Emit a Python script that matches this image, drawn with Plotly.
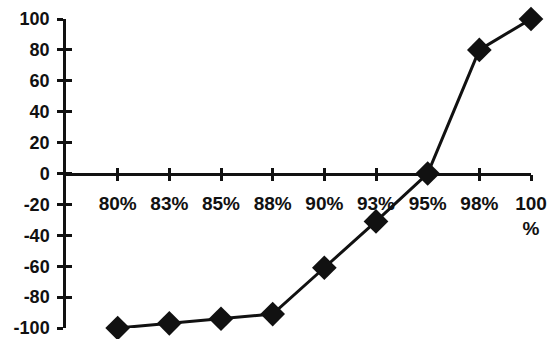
import plotly.graph_objects as go

# Threshold levels and the corresponding index values
categories = ["80%", "83%", "85%", "88%", "90%", "93%", "95%", "98%", "100%"]
values = [-100, -97, -94, -91, -61, -31, 0, 80, 100]
y_ticks = [100, 80, 60, 40, 20, 0, -20, -40, -60, -80, -100]

x_idx = list(range(len(categories)))
# the last label breaks onto a second line
tick_text = categories[:-1] + [categories[-1].replace("%", "<br>%")]
# plain hyphen for negative numbers
y_text = [str(v) for v in y_ticks]

FAMILY = "Liberation Sans, Arial, sans-serif"
INK = "#111111"
XFONT = dict(family=FAMILY, size=19, color=INK, weight="bold")
YFONT = dict(family=FAMILY, size=18, color=INK, weight="bold")

fig = go.Figure()
fig.add_trace(go.Scatter(
    x=x_idx, y=values, mode="lines+markers",
    line=dict(color=INK, width=3),
    marker=dict(symbol="diamond", size=19, color=INK),
    cliponaxis=False, showlegend=False, hoverinfo="x+y",
))
# companion trace so the cross-tick axes are drawn
fig.add_trace(go.Scatter(
    x=x_idx, y=values, xaxis="x2", yaxis="y2", mode="markers",
    marker=dict(opacity=0), showlegend=False, hoverinfo="skip",
))

x_range = [-1, len(categories) - 1]
y_range = [-100, 100]

fig.update_layout(
    width=548, height=339,
    margin=dict(l=66, r=17, t=19, b=11, autoexpand=False),
    paper_bgcolor="white", plot_bgcolor="white",
    font=dict(family=FAMILY, size=18, color=INK),
    xaxis=dict(
        range=x_range, anchor="free", position=0.5, automargin=False,
        tickmode="array", tickvals=x_idx, ticktext=tick_text,
        ticks="outside", ticklen=6, tickwidth=2.5, tickcolor=INK,
        showline=True, linewidth=2.5, linecolor=INK,
        showgrid=False, zeroline=False, ticklabelstandoff=6,
        ticklabeloverflow="allow", tickfont=XFONT,
    ),
    xaxis2=dict(
        range=x_range, overlaying="x", anchor="free", position=0.5,
        automargin=False, tickmode="array", tickvals=x_idx,
        ticks="inside", ticklen=6, tickwidth=2.5, tickcolor=INK,
        showticklabels=False, showline=False, showgrid=False, zeroline=False,
    ),
    yaxis=dict(
        range=y_range, tickmode="array", tickvals=y_ticks, ticktext=y_text,
        automargin=False,
        ticks="outside", ticklen=6, tickwidth=2.5, tickcolor=INK,
        showline=True, linewidth=2.5, linecolor=INK,
        showgrid=False, zeroline=False, ticklabelstandoff=4,
        ticklabeloverflow="allow", tickfont=YFONT,
    ),
    yaxis2=dict(
        range=y_range, overlaying="y", anchor="x", side="left",
        automargin=False, tickmode="array", tickvals=y_ticks,
        ticks="inside", ticklen=6, tickwidth=2.5, tickcolor=INK,
        showticklabels=False, showline=False, showgrid=False, zeroline=False,
    ),
)

fig.write_html("out.html")
